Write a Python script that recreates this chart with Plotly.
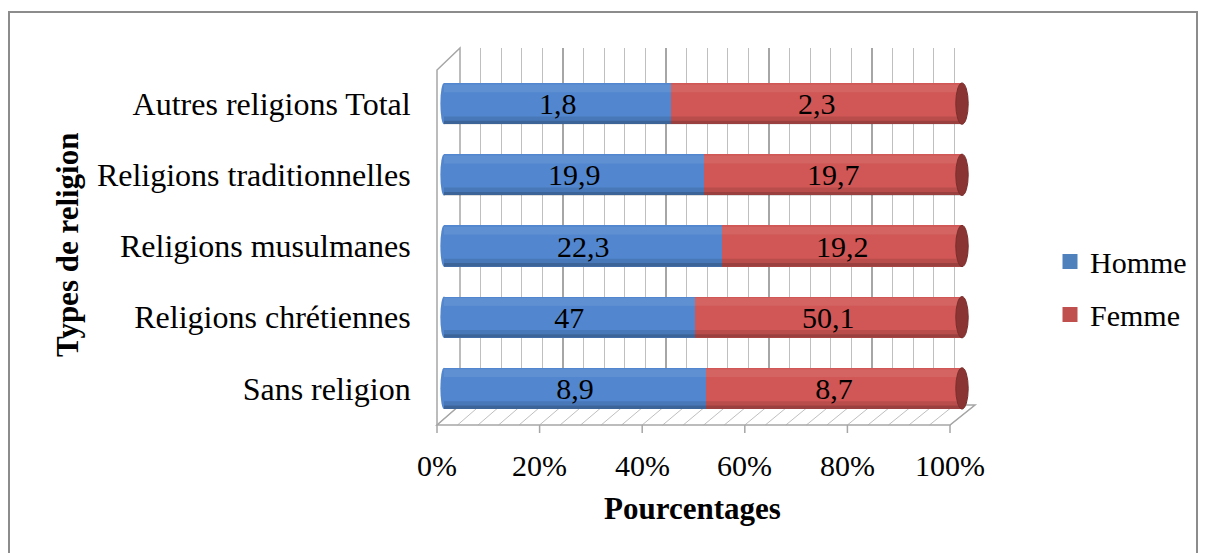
import plotly.graph_objects as go

categories = ["Sans religion", "Religions chrétiennes", "Religions musulmanes",
              "Religions traditionnelles", "Autres religions Total"]
homme = [8.9, 47, 22.3, 19.9, 1.8]
femme = [8.7, 50.1, 19.2, 19.7, 2.3]
homme_labels = ["8,9", "47", "22,3", "19,9", "1,8"]
femme_labels = ["8,7", "50,1", "19,2", "19,7", "2,3"]
x_ticks = [0, 20, 40, 60, 80, 100]
minor_step = 4

W, H = 1206, 553
FONT = "Liberation Serif, Times New Roman, serif"
BLUE = "#4F81BD"
RED = "#C0504D"
GRID = "#A6A6A6"


def px(x):
    return x / W


def py(y):
    return 1 - y / H


# geometry of the pseudo-3D box (pixels)
BACK_L, BACK_R, BACK_T, BACK_B = 460, 975, 48, 405
FRONT_L, FRONT_R, FRONT_B = 437, 950, 425
BAR_L, BAR_R, BAR_T, BAR_B = 444, 962, 68, 424
PAD = 2.0  # % of axis kept on each side for the cylinder ends
bar_px = (BAR_R - BAR_L) / 100.0

fig = go.Figure()

# subplot 1: back wall gridlines
fig.add_trace(go.Scatter(x=[0, 100], y=[0, 1], mode="markers",
                         marker=dict(opacity=0), showlegend=False,
                         hoverinfo="skip", xaxis="x", yaxis="y"))

# subplot 2: the bars
fig.add_trace(go.Bar(
    y=categories, x=homme, orientation="h", name="Homme",
    marker=dict(color="#5287CF", line=dict(width=0)),
    text=homme_labels, textposition="inside", insidetextanchor="middle",
    textfont=dict(size=30, color="black", family=FONT),
    showlegend=False, xaxis="x2", yaxis="y2",
))
fig.add_trace(go.Bar(
    y=categories, x=femme, orientation="h", name="Femme",
    marker=dict(color="#D05755", line=dict(width=0)),
    text=femme_labels, textposition="inside", insidetextanchor="middle",
    textfont=dict(size=30, color="black", family=FONT),
    showlegend=False, xaxis="x2", yaxis="y2",
))

# legend swatches
fig.add_trace(go.Scatter(x=[None], y=[None], mode="markers", name="Homme",
                         marker=dict(symbol="square", size=15, color=BLUE),
                         legendgroup="h", xaxis="x", yaxis="y"))
fig.add_trace(go.Scatter(x=[None], y=[None], mode="markers", name="Femme",
                         marker=dict(symbol="square", size=15, color=RED),
                         legendgroup="f", xaxis="x", yaxis="y"))

HALF = 0.29
for i, _ in enumerate(categories):
    # rounded left end of each cylinder
    fig.add_shape(type="circle", xref="x2", yref="y2",
                  x0=-0.7, x1=0.7, y0=i - HALF, y1=i + HALF,
                  fillcolor="#5287CF", line=dict(width=0), layer="below")
    # bottom shading of the cylinder
    fig.add_shape(type="rect", xref="x2", yref="y2",
                  x0=0, x1=100, y0=i - HALF, y1=i - HALF + 0.05,
                  fillcolor="rgba(0,0,0,0.26)", line=dict(width=0), layer="above")
    fig.add_shape(type="rect", xref="x2", yref="y2",
                  x0=0, x1=100, y0=i - HALF + 0.05, y1=i - HALF + 0.11,
                  fillcolor="rgba(0,0,0,0.11)", line=dict(width=0), layer="above")
    # top highlight
    fig.add_shape(type="rect", xref="x2", yref="y2",
                  x0=0, x1=100, y0=i + HALF - 0.13, y1=i + HALF - 0.02,
                  fillcolor="rgba(255,255,255,0.08)", line=dict(width=0), layer="above")
    # end cap at 100 %
    fig.add_shape(type="circle", xref="x2", yref="y2",
                  x0=98.8, x1=101.2, y0=i - HALF, y1=i + HALF,
                  fillcolor="#8A3533", line=dict(color="#7A2E2C", width=1),
                  layer="above")

# floor: hatch lines joining front and back positions of each minor step
shapes = []
for v in range(0, 101, minor_step):
    xf = FRONT_L + (FRONT_R - FRONT_L) * v / 100
    xb = BACK_L + (BACK_R - BACK_L) * v / 100
    shapes.append(dict(type="line", xref="paper", yref="paper",
                       x0=px(xf), y0=py(FRONT_B), x1=px(xb), y1=py(BACK_B),
                       line=dict(color="#BFBFBF", width=1), layer="below"))
shapes.append(dict(type="path", xref="paper", yref="paper",
                   path=(f"M {px(FRONT_L)},{py(FRONT_B)} L {px(FRONT_R)},{py(FRONT_B)} "
                         f"L {px(BACK_R)},{py(BACK_B)} L {px(BACK_L)},{py(BACK_B)} Z"),
                   line=dict(color=GRID, width=1.5), layer="below"))
shapes.append(dict(type="path", xref="paper", yref="paper",
                   path=(f"M {px(FRONT_L)},{py(FRONT_B)} L {px(FRONT_L)},{py(BACK_T + 22)} "
                         f"L {px(BACK_L)},{py(BACK_T)} L {px(BACK_L)},{py(BACK_B)}"),
                   line=dict(color=GRID, width=1.5), layer="below"))
for v in x_ticks:
    xf = FRONT_L + (FRONT_R - FRONT_L) * v / 100
    shapes.append(dict(type="line", xref="paper", yref="paper",
                       x0=px(xf), y0=py(FRONT_B), x1=px(xf), y1=py(FRONT_B + 8),
                       line=dict(color=GRID, width=1.5), layer="below"))
shapes.append(dict(type="rect", xref="paper", yref="paper",
                   x0=px(9), x1=px(1197), y0=py(H + 20), y1=py(12),
                   line=dict(color="#8C8C8C", width=2),
                   fillcolor="rgba(0,0,0,0)", layer="below"))
for s in shapes:
    fig.add_shape(**s)

for v in x_ticks:
    xf = FRONT_L + (FRONT_R - FRONT_L) * v / 100
    fig.add_annotation(x=px(xf), y=py(465), xref="paper", yref="paper",
                       text=f"{v}%", showarrow=False,
                       font=dict(size=30, family=FONT, color="black"),
                       xanchor="center", yanchor="middle")

fig.add_annotation(x=px(692), y=py(508), xref="paper", yref="paper",
                   text="<b>Pourcentages</b>", showarrow=False,
                   xanchor="center", yanchor="middle",
                   font=dict(size=31, family=FONT, color="black"))
fig.add_annotation(x=px(68), y=py(245), xref="paper", yref="paper",
                   text="<b>Types de religion</b>", showarrow=False, textangle=-90,
                   xanchor="center", yanchor="middle",
                   font=dict(size=31, family=FONT, color="black"))

fig.update_layout(
    width=W, height=H,
    barmode="stack", barnorm="percent", bargap=0.42,
    paper_bgcolor="white", plot_bgcolor="rgba(0,0,0,0)",
    margin=dict(l=0, r=0, t=0, b=0, autoexpand=False),
    font=dict(family=FONT, size=30, color="black"),
    uniformtext=dict(mode="show", minsize=28),
    xaxis=dict(
        domain=[px(BACK_L), px(BACK_R)], range=[0, 100], anchor="y",
        tickvals=x_ticks, showticklabels=False, ticks="",
        showgrid=True, gridcolor=GRID, gridwidth=1.5,
        minor=dict(dtick=minor_step, showgrid=True, gridcolor="#BFBFBF", gridwidth=1),
        zeroline=False, showline=False,
    ),
    yaxis=dict(
        domain=[py(BACK_B), py(BACK_T)], range=[0, 1], anchor="x",
        showticklabels=False, showgrid=False, zeroline=False, showline=False,
    ),
    xaxis2=dict(
        domain=[px(BAR_L - PAD * bar_px), px(BAR_R + PAD * bar_px)],
        range=[-PAD, 100 + PAD], anchor="y2",
        showticklabels=False, showgrid=False, zeroline=False, showline=False,
    ),
    yaxis2=dict(
        domain=[py(BAR_B), py(BAR_T)], range=[-0.5, 4.5], anchor="x2",
        tickfont=dict(size=32), ticklabelstandoff=22, ticks="",
        showgrid=False, zeroline=False, showline=False,
    ),
    legend=dict(x=px(1050), y=py(288), xanchor="left", yanchor="middle",
                font=dict(size=30), traceorder="grouped",
                tracegroupgap=11, bgcolor="rgba(0,0,0,0)"),
)

fig.write_html("out.html", config={"displayModeBar": False},
               post_script="document.body.style.margin='0px';")
